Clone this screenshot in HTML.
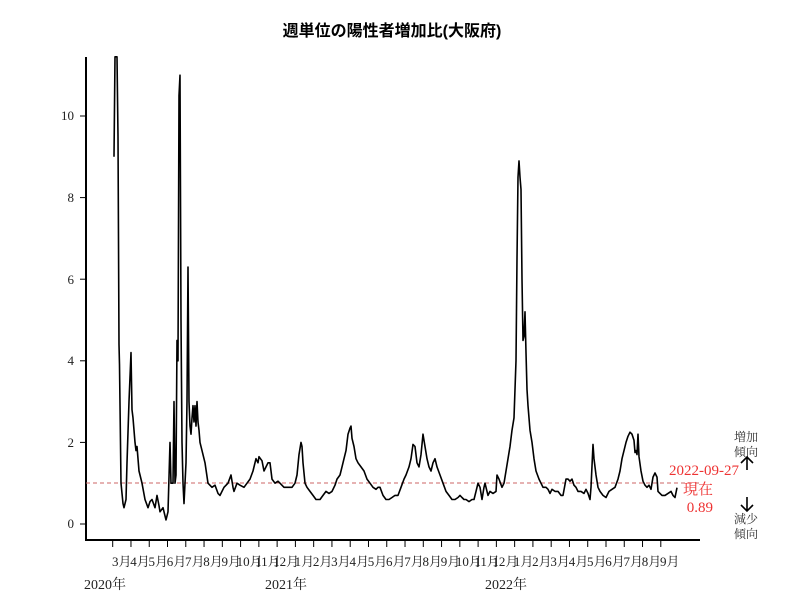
<!DOCTYPE html>
<html><head><meta charset="utf-8"><style>
body{margin:0;background:#fff;}
svg text{font-family:"Liberation Serif","Noto Serif CJK SC",serif;}
</style></head><body>
<svg id="s" width="800" height="600" viewBox="0 0 800 600" xmlns="http://www.w3.org/2000/svg">
<text x="392" y="36" text-anchor="middle" font-size="16" font-weight="bold" style="font-family:'Liberation Sans','Noto Sans CJK JP',sans-serif">週単位の陽性者増加比(大阪府)</text>
<line x1="86" y1="57" x2="86" y2="541" stroke="#000" stroke-width="2"/>
<line x1="85" y1="540" x2="700" y2="540" stroke="#000" stroke-width="2"/>
<g font-size="13" text-anchor="end" fill="#222">
<text x="74" y="528">0</text><text x="74" y="447">2</text><text x="74" y="365">4</text><text x="74" y="284">6</text><text x="74" y="202">8</text><text x="74" y="120">10</text>
</g>
<g id="yt" stroke="#000"></g>
<g id="xt" stroke="#000"></g>
<g id="xl" font-size="13" text-anchor="middle" fill="#222"></g>
<g font-size="14" fill="#222"><text x="84" y="589">2020年</text><text x="265" y="589">2021年</text><text x="485" y="589">2022年</text></g>
<line x1="86" y1="483" x2="700" y2="483" stroke="#c66" stroke-width="1" stroke-dasharray="4,3"/>
<polyline id="p" fill="none" stroke="#000" stroke-width="1.6" stroke-linejoin="round"/>
<g fill="#e33" font-size="15" text-anchor="end"><text x="739" y="475">2022-09-27</text><text x="713" y="494">現在</text><text x="713" y="512">0.89</text></g>
<g font-size="12" fill="#333" text-anchor="middle"><text x="746" y="441">増加</text><text x="746" y="456">傾向</text><text x="746" y="523">減少</text><text x="746" y="538">傾向</text></g>
<g stroke="#000" stroke-width="1.6" fill="none"><path d="M747 470V457M741 463L747 457L753 463"/><path d="M747 497V511M741 505L747 511L753 505"/></g>
</svg>
<script>
var ns="http://www.w3.org/2000/svg";
function Y(v){return 524-v*40.8;}
var yt=document.getElementById('yt');
[0,2,4,6,8,10].forEach(function(v){var l=document.createElementNS(ns,'line');l.setAttribute('x1',80);l.setAttribute('x2',86);l.setAttribute('y1',Y(v));l.setAttribute('y2',Y(v));yt.appendChild(l);});
var xt=document.getElementById('xt'),xl=document.getElementById('xl');
var m=[3,4,5,6,7,8,9,10,11,12,1,2,3,4,5,6,7,8,9,10,11,12,1,2,3,4,5,6,7,8,9];
m.forEach(function(mm,i){var x=112.7+i*18.27;var l=document.createElementNS(ns,'line');l.setAttribute('x1',x);l.setAttribute('x2',x);l.setAttribute('y1',541);l.setAttribute('y2',547);xt.appendChild(l);
var t=document.createElementNS(ns,'text');t.setAttribute('x',x+9);t.setAttribute('y',566);t.textContent=mm+'月';xl.appendChild(t);});
var d=[114,9,115,11.6,117,11.6,118,9.5,119,4.4,119.5,3.9,121,1,123,0.5,124,0.4,126,0.6,127,1.5,129,3,131,4.2,132,2.8,133,2.6,135,2,136,1.8,137,1.9,139,1.3,140,1.2,142,1,145,0.6,148,0.4,150,0.55,152,0.6,155,0.4,157,0.7,159,0.45,160,0.3,163,0.4,166,0.1,168,0.3,170,2,171,1.0,173,1,174,3,175,1,176,1.2,177,4.5,178,4,179,10.5,180,11,181,5,182,2,183,1,184,0.5,185,1,186,1.5,187,3,188,6.3,189,3,190,2.4,191,2.2,192,2.6,193,2.9,194,2.5,195,2.9,196,2.4,197,3.0,198,2.5,199,2.3,200,2.0,202,1.8,205,1.5,208,1.0,212,0.9,215,0.95,218,0.75,220,0.7,224,0.9,228,1.0,231,1.2,233,0.9,234,0.8,237,1.0,240,0.95,244,0.9,247,1.0,250,1.1,253,1.3,256,1.6,258,1.5,259,1.65,262,1.55,264,1.3,266,1.4,268,1.5,270,1.5,272,1.1,275,1.0,278,1.05,280,1.0,284,0.9,288,0.9,292,0.9,295,1.0,297,1.2,299,1.7,301,2.0,302,1.9,303,1.5,305,1.0,307,0.9,310,0.8,313,0.7,316,0.6,320,0.6,323,0.7,326,0.8,329,0.75,332,0.8,335,0.95,337,1.1,340,1.2,342,1.4,344,1.6,346,1.8,348,2.2,350,2.35,351,2.4,352,2.1,354,1.9,356,1.6,358,1.5,361,1.4,364,1.3,367,1.1,370,1.0,373,0.9,376,0.85,378,0.9,380,0.9,383,0.7,386,0.6,389,0.6,392,0.65,395,0.7,398,0.7,401,0.9,404,1.1,406,1.2,409,1.4,411,1.6,413,1.95,415,1.9,417,1.5,419,1.4,421,1.7,423,2.2,425,1.9,427,1.6,429,1.4,431,1.3,433,1.5,435,1.6,437,1.4,440,1.2,443,1.0,446,0.8,449,0.7,452,0.6,455,0.6,458,0.65,460,0.7,462,0.65,464,0.6,466,0.6,469,0.55,472,0.6,474,0.6,476,0.8,478,1.0,480,0.9,482,0.6,484,0.9,485,1.0,487,0.8,488,0.7,490,0.8,493,0.75,496,0.8,497,1.2,499,1.1,502,0.9,504,1.0,506,1.3,508,1.6,510,1.9,512,2.3,514,2.6,516,4.0,517,6.5,518,8.5,519,8.9,520,8.5,521,8.2,522,6,523,4.5,524,4.6,525,5.2,526,4.2,527,3.3,528,2.9,530,2.3,532,2.0,534,1.6,536,1.3,539,1.1,541,1.0,543,0.9,546,0.9,548,0.85,550,0.75,552,0.85,555,0.8,558,0.8,561,0.7,563,0.7,566,1.1,568,1.1,570,1.05,572,1.1,574,0.95,576,0.9,578,0.8,581,0.8,584,0.75,586,0.85,588,0.75,590,0.6,591,0.9,593,1.95,594,1.6,596,1.2,598,0.9,600,0.8,603,0.7,606,0.65,609,0.8,612,0.85,615,0.9,618,1.1,620,1.3,622,1.6,624,1.8,626,2.0,628,2.15,630,2.25,632,2.2,634,2.05,635,1.75,636,1.8,637,1.7,638,2.2,639,1.65,641,1.3,643,1.05,645,0.95,647,0.9,649,0.95,651,0.85,653,1.15,655,1.25,657,1.15,658,0.8,660,0.75,662,0.7,665,0.7,668,0.75,671,0.8,673,0.7,675,0.65,677,0.89];
var pts=[];for(var i=0;i<d.length;i+=2){var v=Math.min(d[i+1],11.45);pts.push(d[i]+','+Y(v).toFixed(1));}
document.getElementById('p').setAttribute('points',pts.join(' '));
</script>
</body></html>
